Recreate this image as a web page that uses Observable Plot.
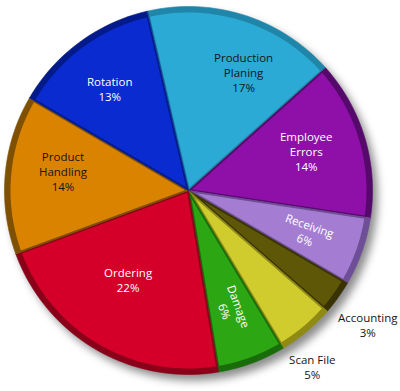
<!DOCTYPE html>
<html><head><meta charset="utf-8">
<script src="https://cdn.jsdelivr.net/npm/d3@7"></script>
<script src="https://cdn.jsdelivr.net/npm/@observablehq/plot@0.6"></script>
<style>body{margin:0;background:#fff}</style>
</head><body><div id="chart"></div>
<script>
// ---- data ----
const categories = ["Production Planing","Employee Errors","Receiving","Accounting","Scan File","Damage","Ordering","Product Handling","Rotation"];
const shares = [17,14,6,3,5,6,22,14,13];
const labelLines = ["Production\nPlaning","Employee\nErrors","Receiving","Accounting","Scan File","Damage","Ordering","Product\nHandling","Rotation"];
// ---- styles ----
const faceColors = ["#2BAAD6","#8E10A9","#A47DD2","#5F5708","#D0CC2E","#2CA713","#D4002A","#DA8300","#0A2BD0"];
const rimColors  = ["#1F86AA","#55096A","#6E4E96","#383204","#8E8A14","#1A6C0A","#8A0019","#7E5000","#031A8A"];
const textColors = ["#151515","#ffffff","#ffffff","#151515","#151515","#ffffff","#ffffff","#151515","#ffffff"];
const outsideLabels = ["Accounting","Scan File"];
const rotatedLabels = ["Receiving","Damage"];
// label nudges in pixels: [right, down]
const labelNudge = {"Production Planing":[17,2],"Employee Errors":[-3,-3],"Accounting":[-11,-2],"Scan File":[-24,0],
  "Ordering":[3,-20],"Product Handling":[0,-8],"Rotation":[-4,0]};
const labelRadius = {"Accounting":234,"Scan File":230};

const W = 400, H = 391, cx = 188, cy = 190, R = 184, RIM = 6, EDGE = 1.6, START = -13;
const total = d3.sum(shares);
const rad = d => d * Math.PI / 180;
const pt = (a, r) => [r * Math.sin(a), r * Math.cos(a)];

let acc = rad(START);
const slices = categories.map((name, i) => {
  const a0 = acc, a1 = acc + shares[i] / total * 2 * Math.PI;
  acc = a1;
  return {name, i, a0, a1, mid: (a0 + a1) / 2};
});

const base = [], face = [], shadow = [];
slices.forEach(s => {
  const steps = Math.max(4, Math.ceil((s.a1 - s.a0) / rad(2)));
  base.push({id: s.name, x: 0, y: 0, fill: rimColors[s.i]});
  for (let k = 0; k <= steps; k++) {
    const [x, y] = pt(s.a0 + (s.a1 - s.a0) * k / steps, R);
    base.push({id: s.name, x, y, fill: rimColors[s.i]});
  }
  const half = (s.a1 - s.a0) / 2;
  const [fx, fy] = pt(s.mid, EDGE / Math.sin(half));
  face.push({id: s.name, x: fx, y: fy, fill: faceColors[s.i]});
  const rf = R - RIM, da = Math.asin(EDGE / rf);
  for (let k = 0; k <= steps; k++) {
    const [x, y] = pt(s.a0 + da + (s.a1 - s.a0 - 2 * da) * k / steps, rf);
    face.push({id: s.name, x, y, fill: faceColors[s.i]});
  }
});
for (let k = 0; k <= 180; k++) {
  const [x, y] = pt(k / 180 * 2 * Math.PI, R);
  shadow.push({x: x + 5, y: y - 6});
}

const labels = slices.map(s => {
  const out = outsideLabels.includes(s.name);
  const r = labelRadius[s.name] || 126;
  let [x, y] = pt(s.mid, r);
  const n = labelNudge[s.name];
  if (n) { x += n[0]; y -= n[1]; }
  const rot = rotatedLabels.includes(s.name) ? s.mid * 180 / Math.PI - 90 : 0;
  return {x, y, rot, text: labelLines[s.i] + "\n" + shares[s.i] + "%", color: out ? "#151515" : textColors[s.i]};
});

const svg = Plot.plot({
  width: W, height: H,
  marginTop: 0, marginRight: 0, marginBottom: 0, marginLeft: 0,
  x: {domain: [-cx, W - cx], axis: null},
  y: {domain: [-(H - cy), cy], axis: null},
  color: {type: "identity"},
  style: {background: "#ffffff"},
  marks: [
    Plot.line(shadow, {x: "x", y: "y", fill: "#000", fillOpacity: 0.45, stroke: "none", curve: "linear-closed", ariaDescription: "shadow"}),
    Plot.line(base, {x: "x", y: "y", z: "id", fill: "fill", stroke: "fill", strokeWidth: 0.6, curve: "linear-closed"}),
    Plot.line(face, {x: "x", y: "y", z: "id", fill: "fill", stroke: "none", curve: "linear-closed"}),
    Plot.text(labels, {x: "x", y: "y", text: "text", fill: "color", rotate: "rot",
      fontSize: 11.5, fontFamily: "Open Sans", lineHeight: 1.3})
  ]
});

const root = d3.select(svg);
const f = root.insert("defs", ":first-child").append("filter").attr("id", "blurShadow")
  .attr("x", "-20%").attr("y", "-20%").attr("width", "140%").attr("height", "140%");
f.append("feGaussianBlur").attr("stdDeviation", 4);
root.select('g[aria-description="shadow"]').attr("filter", "url(#blurShadow)");

document.getElementById("chart").appendChild(svg);
</script>
</body></html>
